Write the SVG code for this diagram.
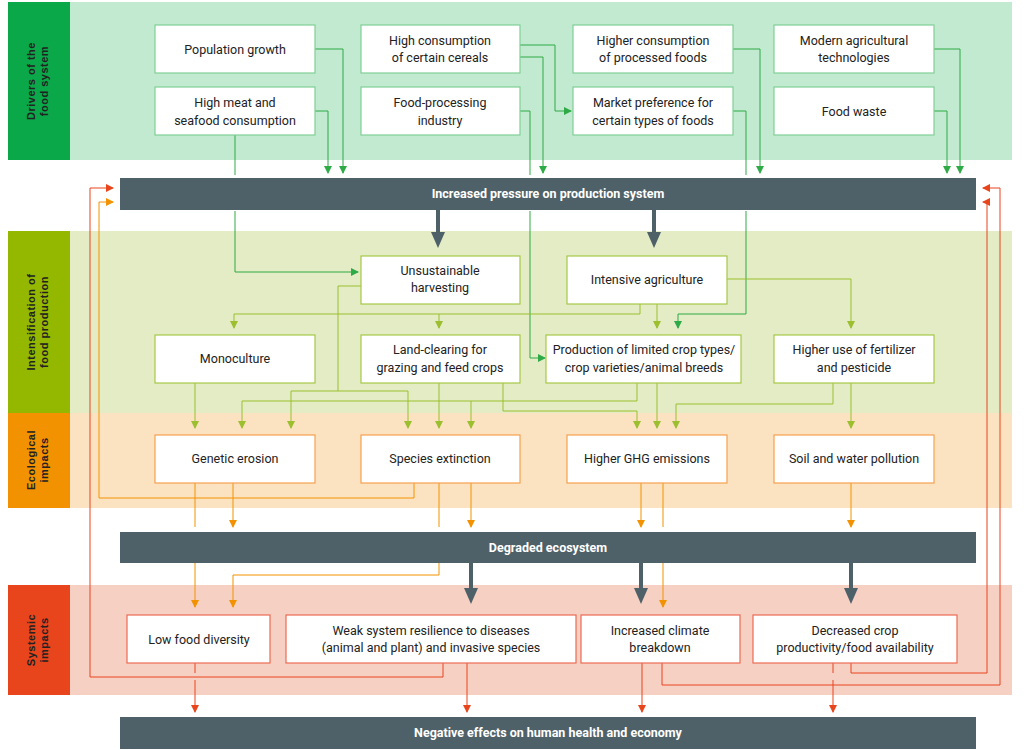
<svg xmlns="http://www.w3.org/2000/svg" width="1028" height="750" viewBox="0 0 1028 750">
<defs>
<style>
.t{font-family:Roboto,"Liberation Sans",sans-serif;font-size:12.5px;fill:#222;text-anchor:middle}
.bt{font-family:Roboto,"Liberation Sans",sans-serif;font-size:12.5px;font-weight:bold;fill:#fff;text-anchor:middle}
.lt{font-family:"Liberation Sans",sans-serif;font-size:11px;font-weight:bold;fill:#222;text-anchor:middle;letter-spacing:0.5px}
.n{fill:#fff;stroke-width:1.2}
.dn{stroke:#7fcf95}.in{stroke:#a5c846}.en{stroke:#f6a04d}.sn{stroke:#eb6b52}
.c{fill:none;stroke-width:1}
.g{stroke:#2eaa47}.l{stroke:#9bbf2e}.o{stroke:#f39200}.r{stroke:#e8451c}
.th{fill:none;stroke:#4f6168;stroke-width:4}
</style>
<marker id="ag" markerWidth="8" markerHeight="8" refX="7" refY="4" orient="auto" markerUnits="userSpaceOnUse"><path d="M0,0L8,4L0,8z" fill="#2eaa47"/></marker>
<marker id="al" markerWidth="8" markerHeight="8" refX="7" refY="4" orient="auto" markerUnits="userSpaceOnUse"><path d="M0,0L8,4L0,8z" fill="#9bbf2e"/></marker>
<marker id="ao" markerWidth="8" markerHeight="8" refX="7" refY="4" orient="auto" markerUnits="userSpaceOnUse"><path d="M0,0L8,4L0,8z" fill="#f39200"/></marker>
<marker id="ar" markerWidth="8" markerHeight="8" refX="7" refY="4" orient="auto" markerUnits="userSpaceOnUse"><path d="M0,0L8,4L0,8z" fill="#e8451c"/></marker>
<marker id="ad" markerWidth="16" markerHeight="14" refX="2" refY="7" orient="auto" markerUnits="userSpaceOnUse"><path d="M0,0L16,7L0,14z" fill="#4f6168"/></marker>
</defs>
<g id="bands">
<rect x="70" y="2" width="942" height="158" fill="#c2ead0"/>
<rect x="8" y="2" width="62" height="158" fill="#0ba84a"/>
<rect x="70" y="231" width="942" height="182" fill="#e3ecc4"/>
<rect x="8" y="231" width="62" height="182" fill="#94b800"/>
<rect x="70" y="413" width="942" height="95" fill="#fbe3c2"/>
<rect x="8" y="413" width="62" height="95" fill="#f39200"/>
<rect x="70" y="585" width="942" height="110" fill="#f7d0c4"/>
<rect x="8" y="585" width="62" height="110" fill="#e8451c"/>
<text class="lt" transform="translate(35,81) rotate(-90)">Drivers of the</text>
<text class="lt" transform="translate(48,81) rotate(-90)">food system</text>
<text class="lt" transform="translate(35,322) rotate(-90)">Intensification of</text>
<text class="lt" transform="translate(48,322) rotate(-90)">food production</text>
<text class="lt" transform="translate(35,460) rotate(-90)">Ecological</text>
<text class="lt" transform="translate(48,460) rotate(-90)">impacts</text>
<text class="lt" transform="translate(35,640) rotate(-90)">Systemic</text>
<text class="lt" transform="translate(48,640) rotate(-90)">impacts</text>
</g>
<g id="connectors">
<path class="c g" d="M315,49H343V173" marker-end="url(#ag)"/>
<path class="c g" d="M315,111H328V173" marker-end="url(#ag)"/>
<path class="c g" d="M520,45H555V111H571" marker-end="url(#ag)"/>
<path class="c g" d="M520,57H543V173" marker-end="url(#ag)"/>
<path class="c g" d="M733,49H760V173" marker-end="url(#ag)"/>
<path class="c g" d="M934,49H960V173" marker-end="url(#ag)"/>
<path class="c g" d="M934,111H947V173" marker-end="url(#ag)"/>
<path class="c g" d="M235,135V175M235,211V272H358" marker-end="url(#ag)"/>
<path class="c g" d="M520,111H530V175M530,211V358H545" marker-end="url(#ag)"/>
<path class="c g" d="M733,111H746V175M746,211V314H678V328" marker-end="url(#ag)"/>
<path class="th" d="M438,210V234" marker-end="url(#ad)"/>
<path class="th" d="M654,210V234" marker-end="url(#ad)"/>
<path class="c l" d="M640,304V314H234V328" marker-end="url(#al)"/>
<path class="c l" d="M439,314V328" marker-end="url(#al)"/>
<path class="c l" d="M657,304V328" marker-end="url(#al)"/>
<path class="c l" d="M727,279H851V328" marker-end="url(#al)"/>
<path class="c l" d="M361,286H338V391H408V428" marker-end="url(#al)"/>
<path class="c l" d="M291,391H338M291,391V428" marker-end="url(#al)"/>
<path class="c l" d="M195,383V428" marker-end="url(#al)"/>
<path class="c l" d="M439,383V428" marker-end="url(#al)"/>
<path class="c l" d="M503,383V411H637V428" marker-end="url(#al)"/>
<path class="c l" d="M637,383V401H242V428" marker-end="url(#al)"/>
<path class="c l" d="M471,401V428" marker-end="url(#al)"/>
<path class="c l" d="M657,383V428" marker-end="url(#al)"/>
<path class="c l" d="M833,383V404H676V428" marker-end="url(#al)"/>
<path class="c l" d="M851,383V428" marker-end="url(#al)"/>
<path class="c o" d="M195,483V527M195,563V607" marker-end="url(#ao)"/>
<path class="c o" d="M233,483V527" marker-end="url(#ao)"/>
<path class="c o" d="M414,483V498H99V202H113" marker-end="url(#ao)"/>
<path class="c o" d="M439,483V527M439,563V575H233V607" marker-end="url(#ao)"/>
<path class="c o" d="M471,483V527" marker-end="url(#ao)"/>
<path class="c o" d="M641,483V527" marker-end="url(#ao)"/>
<path class="c o" d="M663,483V527M663,563V607" marker-end="url(#ao)"/>
<path class="c o" d="M851,483V527" marker-end="url(#ao)"/>
<path class="th" d="M471,563V590" marker-end="url(#ad)"/>
<path class="th" d="M641,563V590" marker-end="url(#ad)"/>
<path class="th" d="M851,563V590" marker-end="url(#ad)"/>
<path class="c r" d="M195,663V673M195,680V712" marker-end="url(#ar)"/>
<path class="c r" d="M443,663V677H90V188H113" marker-end="url(#ar)"/>
<path class="c r" d="M467,663V712" marker-end="url(#ar)"/>
<path class="c r" d="M642,663V712" marker-end="url(#ar)"/>
<path class="c r" d="M662,663V685H1000V188H983" marker-end="url(#ar)"/>
<path class="c r" d="M851,663V673H987V202H983" marker-end="url(#ar)"/>
<path class="c r" d="M833,663V673M833,680V712" marker-end="url(#ar)"/>
</g>
<g id="bar-pressure"><rect x="120" y="178" width="856" height="32" fill="#4f6168"/><text class="bt" x="548" y="198">Increased pressure on production system</text></g>
<g id="bar-degraded"><rect x="120" y="532" width="856" height="31" fill="#4f6168"/><text class="bt" x="548" y="552">Degraded ecosystem</text></g>
<g id="bar-negative"><rect x="120" y="717" width="856" height="32" fill="#4f6168"/><text class="bt" x="548" y="737">Negative effects on human health and economy</text></g>
<g id="n1"><rect class="n dn" x="155" y="25" width="160" height="48"/><text class="t" x="235" y="54">Population growth</text></g>
<g id="n2"><rect class="n dn" x="361" y="25" width="159" height="48"/><text class="t" x="440" y="45">High consumption</text><text class="t" x="440" y="62">of certain cereals</text></g>
<g id="n3"><rect class="n dn" x="573" y="25" width="160" height="48"/><text class="t" x="653" y="45">Higher consumption</text><text class="t" x="653" y="62">of processed foods</text></g>
<g id="n4"><rect class="n dn" x="774" y="25" width="160" height="48"/><text class="t" x="854" y="45">Modern agricultural</text><text class="t" x="854" y="62">technologies</text></g>
<g id="n5"><rect class="n dn" x="155" y="87" width="160" height="48"/><text class="t" x="235" y="107">High meat and</text><text class="t" x="235" y="125">seafood consumption</text></g>
<g id="n6"><rect class="n dn" x="361" y="87" width="159" height="48"/><text class="t" x="440" y="107">Food-processing</text><text class="t" x="440" y="125">industry</text></g>
<g id="n7"><rect class="n dn" x="573" y="87" width="160" height="48"/><text class="t" x="653" y="107">Market preference for</text><text class="t" x="653" y="125">certain types of foods</text></g>
<g id="n8"><rect class="n dn" x="774" y="87" width="160" height="48"/><text class="t" x="854" y="116">Food waste</text></g>
<g id="n9"><rect class="n in" x="361" y="256" width="159" height="48"/><text class="t" x="440" y="275">Unsustainable</text><text class="t" x="440" y="292">harvesting</text></g>
<g id="n10"><rect class="n in" x="567" y="256" width="160" height="48"/><text class="t" x="647" y="284">Intensive agriculture</text></g>
<g id="n11"><rect class="n in" x="155" y="335" width="160" height="48"/><text class="t" x="235" y="363">Monoculture</text></g>
<g id="n12"><rect class="n in" x="361" y="335" width="159" height="48"/><text class="t" x="440" y="354">Land-clearing for</text><text class="t" x="440" y="372">grazing and feed crops</text></g>
<g id="n13"><rect class="n in" x="546" y="335" width="195" height="48"/><text class="t" x="644" y="354">Production of limited crop types/</text><text class="t" x="644" y="372">crop varieties/animal breeds</text></g>
<g id="n14"><rect class="n in" x="774" y="335" width="160" height="48"/><text class="t" x="854" y="354">Higher use of fertilizer</text><text class="t" x="854" y="372">and pesticide</text></g>
<g id="n15"><rect class="n en" x="155" y="435" width="160" height="48"/><text class="t" x="235" y="463">Genetic erosion</text></g>
<g id="n16"><rect class="n en" x="361" y="435" width="159" height="48"/><text class="t" x="440" y="463">Species extinction</text></g>
<g id="n17"><rect class="n en" x="567" y="435" width="160" height="48"/><text class="t" x="647" y="463">Higher GHG emissions</text></g>
<g id="n18"><rect class="n en" x="774" y="435" width="160" height="48"/><text class="t" x="854" y="463">Soil and water pollution</text></g>
<g id="n19"><rect class="n sn" x="127" y="615" width="143" height="48"/><text class="t" x="199" y="644">Low food diversity</text></g>
<g id="n20"><rect class="n sn" x="286" y="615" width="290" height="48"/><text class="t" x="431" y="635">Weak system resilience to diseases</text><text class="t" x="431" y="652">(animal and plant) and invasive species</text></g>
<g id="n21"><rect class="n sn" x="581" y="615" width="159" height="48"/><text class="t" x="660" y="635">Increased climate</text><text class="t" x="660" y="652">breakdown</text></g>
<g id="n22"><rect class="n sn" x="753" y="615" width="204" height="48"/><text class="t" x="855" y="635">Decreased crop</text><text class="t" x="855" y="652">productivity/food availability</text></g>
</svg>
